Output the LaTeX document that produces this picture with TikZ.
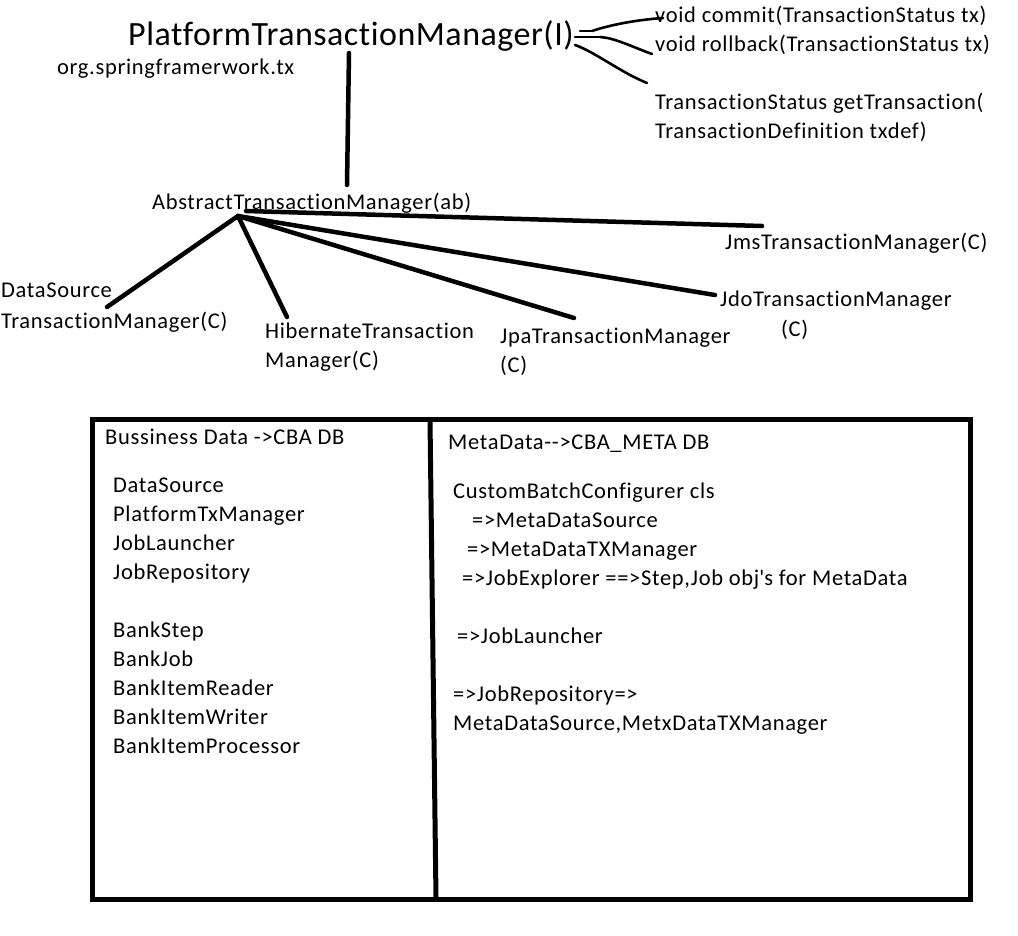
\documentclass[tikz,border=0pt]{standalone}
\usepackage{fontspec}
\setmainfont{Carlito}
\newfontfamily\smallfnt[LetterSpace=3,Ligatures=NoCommon]{Carlito}
\newfontfamily\bigfnt[LetterSpace=1.5,Ligatures=NoCommon]{Carlito}
\begin{document}
\begin{tikzpicture}[x=1pt,y=-1pt,
  txt/.style={anchor=base west, inner sep=0pt, font=\smallfnt\fontsize{22.5}{27}\selectfont},
  big/.style={anchor=base west, inner sep=0pt, font=\bigfnt\fontsize{34}{40}\selectfont},
  stroke/.style={line width=4.5pt, line cap=round},
  pen/.style={line width=2.6pt, line cap=round, line join=round},
  frame/.style={line width=5pt}]
\useasboundingbox (0,0) rectangle (1018,936);
% top texts
\node[big] (ptm) at (128,46) {PlatformTransactionManager(I)};
\node[txt] (pkg) at (57,75) {org.springframerwork.tx};
\node[txt] (m1) at (655,23) {void commit(TransactionStatus tx)};
\node[txt] (m2) at (655,52) {void rollback(TransactionStatus tx)};
\node[txt] (m3a) at (655,110) {TransactionStatus getTransaction(};
\node[txt] (m3b) at (655,139) {TransactionDefinition txdef)};
\node[txt] (atm) at (152,210) {AbstractTransactionManager(ab)};
\node[txt] (jms) at (725,250) {JmsTransactionManager(C)};
\node[txt] (jdo) at (720,306) {JdoTransactionManager};
\node[txt] (jdoc) at (781,337) {(C)};
\node[txt] (ds1) at (1,298) {DataSource};
\node[txt] (ds2) at (1,328) {TransactionManager(C)};
\node[txt] (hb1) at (265,338) {HibernateTransaction};
\node[txt] (hb2) at (265,367) {Manager(C)};
\node[txt] (jpa1) at (500,343) {JpaTransactionManager};
\node[txt] (jpa2) at (500,372) {(C)};
% coordinates
\coordinate (vtop) at (349,53);
\coordinate (vbot) at (347,185);
\coordinate (hub) at (238,216);
\coordinate (hub2) at (246,211);
\coordinate (eds) at (107,307);
\coordinate (ehb) at (287,317);
\coordinate (ejpa) at (574,318);
\coordinate (ejdo) at (715,295);
\coordinate (ejms) at (762,226);
\draw[stroke] (vtop) -- (vbot);
\draw[stroke] (hub) -- (eds);
\draw[stroke] (hub) -- (ehb);
\draw[stroke] (hub) -- (ejpa);
\draw[stroke] (hub) -- (ejdo);
\draw[stroke] (hub2) -- (ejms);
% method squiggles
\coordinate (q1) at (580,31);
\coordinate (q2) at (592,31);
\coordinate (q3) at (575,37);
\coordinate (q4) at (600,37);
\coordinate (q5) at (575,45);
\coordinate (c1) at (663,18);
\coordinate (r1) at (652,54);
\coordinate (g1) at (647,83);
\draw[pen] (q1) -- (q2);
\draw[pen] (q3) -- (q4);
\draw[pen] (q2) .. controls (610,25) and (635,20) .. (c1);
\draw[pen] (q4) .. controls (615,38) and (630,46) .. (r1);
\draw[pen] (q5) .. controls (595,52) and (620,72) .. (g1);
% bottom box
\coordinate (bl) at (92.5,419.5);
\coordinate (br) at (970,899);
\coordinate (dtop) at (430,419.5);
\coordinate (dbot) at (436,899);
\draw[frame] (bl) rectangle (br);
\draw[frame] (dtop) -- (dbot);
% left column
\node[txt] (lt) at (105,444) {Bussiness Data ->CBA DB};
\node[txt] (l1) at (113,492) {DataSource};
\node[txt] (l2) at (113,521) {PlatformTxManager};
\node[txt] (l3) at (113,550) {JobLauncher};
\node[txt] (l4) at (113,579) {JobRepository};
\node[txt] (l5) at (113,637) {BankStep};
\node[txt] (l6) at (113,666) {BankJob};
\node[txt] (l7) at (113,695) {BankItemReader};
\node[txt] (l8) at (113,724) {BankItemWriter};
\node[txt] (l9) at (113,753) {BankItemProcessor};
% right column
\node[txt] (rt) at (448,449) {MetaData-{}->CBA\_META DB};
\node[txt] (r1n) at (453,498) {CustomBatchConfigurer cls};
\node[txt] (r2) at (472,527) {=>MetaDataSource};
\node[txt] (r3) at (467,556) {=>MetaDataTXManager};
\node[txt] (r4) at (462,585) {=>JobExplorer ==>Step,Job obj\textquotesingle s for MetaData};
\node[txt] (r5) at (457,643) {=>JobLauncher};
\node[txt] (r6) at (453,701) {=>JobRepository=>};
\node[txt] (r7) at (453,730) {MetaDataSource,MetxDataTXManager};
\end{tikzpicture}
\end{document}
